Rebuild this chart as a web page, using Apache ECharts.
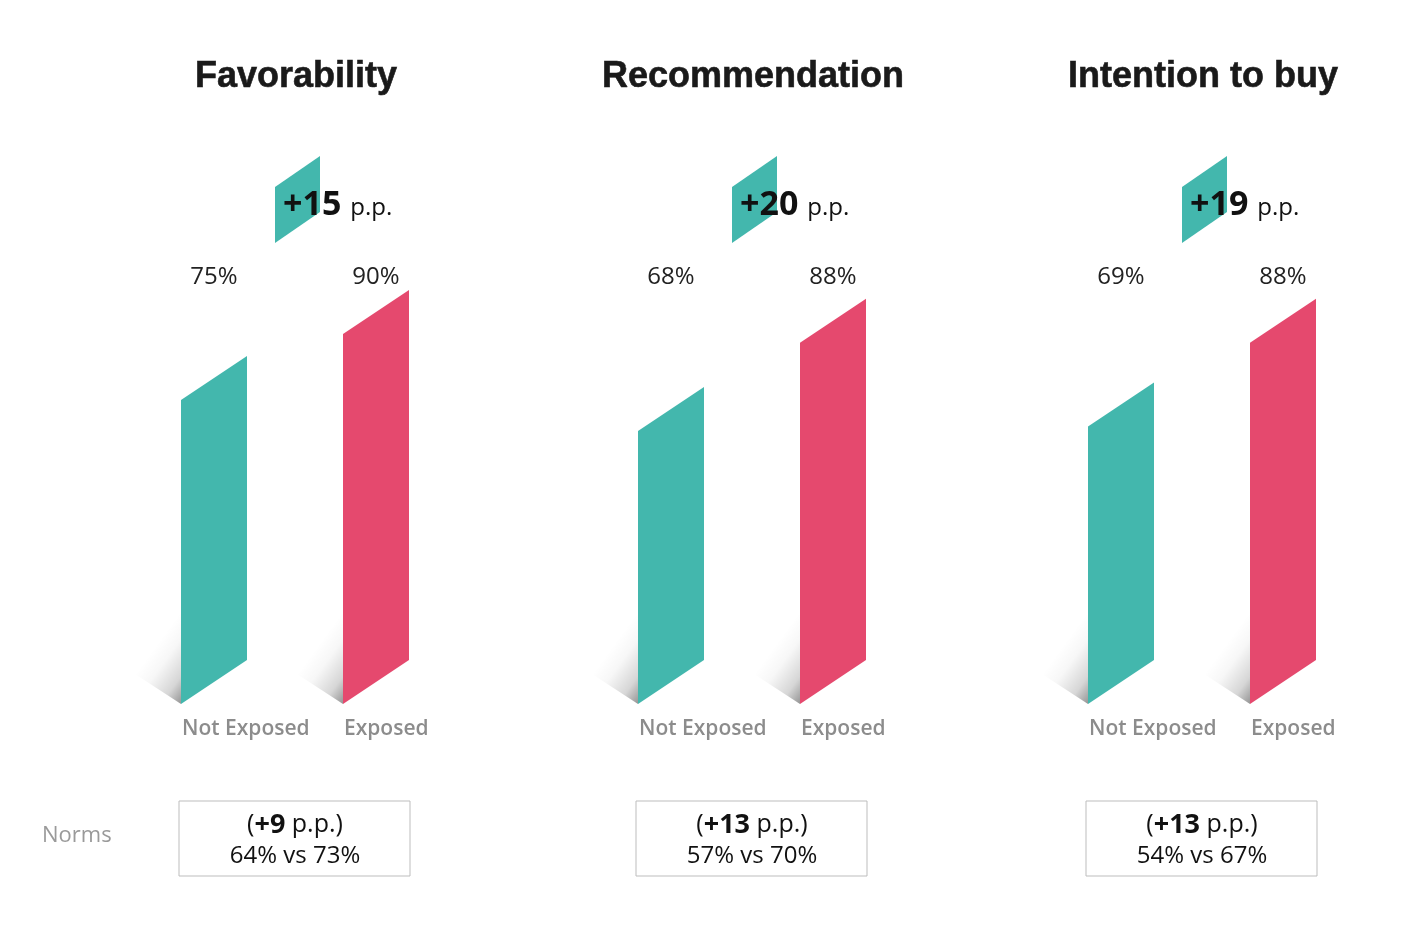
<!DOCTYPE html>
<html>
<head>
<meta charset="utf-8">
<script src="https://cdn.jsdelivr.net/npm/echarts@6/dist/echarts.min.js"></script>
<style>
    html, body { margin: 0; padding: 0; background: #fff; }
    #main { width: 1410px; height: 944px; }
</style>
</head>
<body>
<div id="main"></div>
<script>
// data
var titles = ['Favorability', 'Recommendation', 'Intention to buy'];
var groups = ['Not Exposed', 'Exposed'];
var notExposed = [75, 68, 69];
var exposed = [90, 88, 88];
var normsNot = [64, 57, 54];
var normsExp = [73, 70, 67];

var TEAL = '#43b7ad', RED = '#e5496e';
var panelLeft = [133, 590, 1040];
var BAR_W = 66, SKEW = 44, Y_MIN = 6, Y_MAX = 100;
var FONT = '"Open Sans", "Noto Sans", sans-serif';

var chart = echarts.init(document.getElementById('main'));

function makeRender(p) {
    return function (params, api) {
        var idx = api.value(0), val = api.value(1);
        var top = api.coord([idx, val]);
        var base = api.coord([idx, Y_MIN]);
        var gridTop = api.coord([idx, Y_MAX])[1];
        var x0 = top[0] - BAR_W / 2, x1 = x0 + BAR_W, yb = base[1];
        var color = idx === 0 ? TEAL : RED;
        var children = [
            //shadow, fades toward its long edge
            {
                type: 'polygon',
                shape: { points: [[x0, yb], [x0 - 46, yb - 30], [x0, yb - 92]] },
                style: {
                    fill: {
                        type: 'linear', x: 1, y: 1, x2: 0.04, y2: 0.65,
                        colorStops: [
                            { offset: 0, color: 'rgba(0,0,0,0.42)' },
                            { offset: 0.3, color: 'rgba(0,0,0,0.16)' },
                            { offset: 0.7, color: 'rgba(0,0,0,0.03)' },
                            { offset: 1, color: 'rgba(0,0,0,0)' }
                        ]
                    }
                }
            },
            {
                type: 'polygon',
                shape: { points: [[x0, yb], [x0, top[1]], [x1, top[1] - SKEW], [x1, yb - SKEW]] },
                style: { fill: color }
            },
            {
                type: 'text',
                style: {
                    text: val + '%', x: top[0], y: gridTop - 13,
                    align: 'center', verticalAlign: 'middle',
                    font: '24px ' + FONT, fill: '#222'
                }
            },
            {
                type: 'text',
                style: {
                    text: groups[idx], x: x0 + 1, y: yb + 25,
                    align: 'left', verticalAlign: 'middle',
                    font: '600 21px ' + FONT, fill: '#8c8c8c'
                }
            }
        ];
        if (idx === 1) {
            var mid = (api.coord([0, Y_MIN])[0] + top[0]) / 2;
            var bx = mid - 20;
            var diff = exposed[p] - notExposed[p];
            var nDiff = normsExp[p] - normsNot[p];
            children.push({
                type: 'polygon',
                shape: { points: [[bx, gridTop - 47], [bx, gridTop - 103], [bx + 45, gridTop - 134], [bx + 45, gridTop - 78]] },
                style: { fill: TEAL }
            });
            children.push({
                type: 'text',
                style: {
                    text: '{b|+' + diff + '}{r|p.p.}', x: bx + 8, y: gridTop - 85,
                    align: 'left', verticalAlign: 'middle',
                    rich: {
                        b: { fontFamily: FONT, fontSize: 34, fontWeight: 'bold', fill: '#111' },
                        r: { fontFamily: FONT, fontSize: 24, fill: '#111', padding: [7, 0, 0, 9] }
                    }
                }
            });
            //norms box
            children.push({
                type: 'rect',
                shape: { x: mid - 116, y: yb + 97, width: 231, height: 75 },
                style: { fill: '#fff', stroke: '#bdbdbd', lineWidth: 1 }
            });
            children.push({
                type: 'text',
                style: {
                    text: '{r|(}{b|+' + nDiff + '}{r| p.p.)}', x: mid, y: yb + 121,
                    align: 'center', verticalAlign: 'middle',
                    rich: {
                        b: { fontFamily: FONT, fontSize: 27, fontWeight: 'bold', fill: '#111' },
                        r: { fontFamily: FONT, fontSize: 25, fontWeight: 500, fill: '#111' }
                    }
                }
            });
            children.push({
                type: 'text',
                style: {
                    text: normsNot[p] + '% vs ' + normsExp[p] + '%', x: mid, y: yb + 152,
                    align: 'center', verticalAlign: 'middle',
                    font: '500 24px ' + FONT, fill: '#111'
                }
            });
        }
        return { type: 'group', children: children };
    };
}

var grids = [], xAxes = [], yAxes = [], series = [], titleList = [];
for (var p = 0; p < 3; p++) {
    grids.push({ left: panelLeft[p], width: 324, top: 290, height: 414 });
    xAxes.push({ type: 'category', gridIndex: p, data: groups, show: false });
    yAxes.push({ type: 'value', gridIndex: p, min: Y_MIN, max: Y_MAX, show: false });
    series.push({
        type: 'custom',
        xAxisIndex: p,
        yAxisIndex: p,
        renderItem: makeRender(p),
        data: [[0, notExposed[p]], [1, exposed[p]]]
    });
    titleList.push({
        text: titles[p],
        left: panelLeft[p] + 163,
        top: 59,
        textAlign: 'center',
        padding: 0,
        textStyle: {
            fontFamily: '"Liberation Sans", Arial, sans-serif', fontSize: 36, fontWeight: 'bold',
            color: '#1a1a1a', textBorderColor: '#1a1a1a', textBorderWidth: 0.6
        }
    });
}

var option = {
    backgroundColor: '#fff',
    animation: false,
    title: titleList,
    grid: grids,
    xAxis: xAxes,
    yAxis: yAxes,
    series: series,
    graphic: [{
        type: 'text',
        left: 42,
        top: 825,
        style: { text: 'Norms', font: '22px ' + FONT, fill: '#9a9a9a' }
    }]
};
chart.setOption(option);
</script>
</body>
</html>
